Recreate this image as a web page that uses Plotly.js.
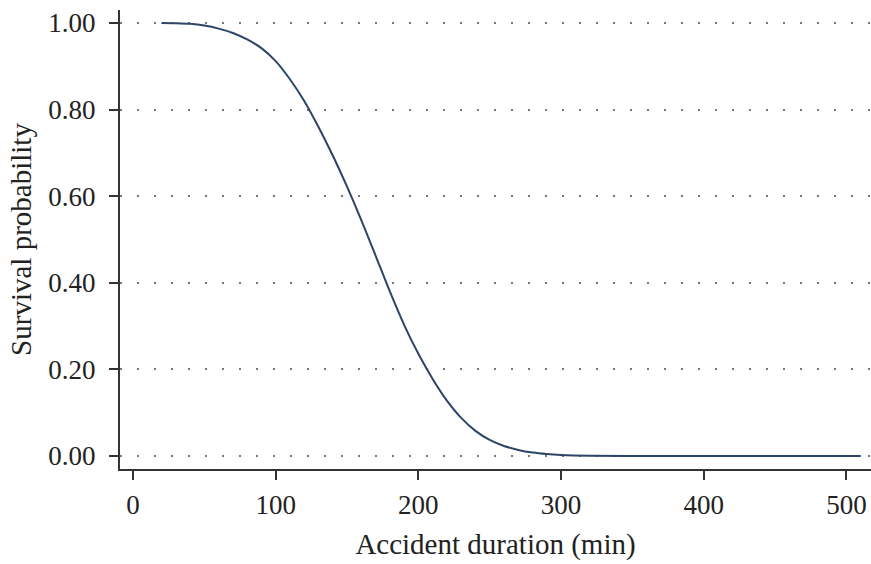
<!DOCTYPE html>
<html>
<head>
<meta charset="utf-8">
<script src="https://cdn.plot.ly/plotly-3.0.1.min.js"></script>
<style>html,body{margin:0;padding:0;background:#fff;}#chart{width:871px;height:564px;}</style>
</head>
<body>
<div id="chart"></div>
<script>
const durationMin = [20, 30, 40, 50, 60, 70, 80, 90, 100, 110, 120, 130, 140, 150, 160, 170, 180, 190, 200, 210, 220, 230, 240, 250, 260, 270, 280, 290, 300, 320, 350, 510];
const survivalProb = [1.000, 0.9995, 0.998, 0.994, 0.987, 0.977, 0.962, 0.942, 0.912, 0.870, 0.820, 0.760, 0.694, 0.622, 0.545, 0.463, 0.380, 0.303, 0.236, 0.178, 0.128, 0.088, 0.058, 0.037, 0.023, 0.014, 0.008, 0.0045, 0.0025, 0.0008, 0.0001, 0.0];
const xTickVals = [0, 100, 200, 300, 400, 500];
const yTickVals = [0, 0.2, 0.4, 0.6, 0.8, 1.0];
const yTickText = ["0.00", "0.20", "0.40", "0.60", "0.80", "1.00"];

const font = "Liberation Serif, Times New Roman, serif";
Plotly.newPlot("chart", [{
  x: durationMin, y: survivalProb, type: "scatter", mode: "lines",
  line: {color: "#2b4566", width: 2, shape: "spline", smoothing: 0.8},
  hoverinfo: "skip"
}], {
  width: 871, height: 564,
  margin: {l: 120, r: 0, t: 10, b: 95},
  paper_bgcolor: "#fff", plot_bgcolor: "#fff",
  showlegend: false,
  font: {family: font, color: "#222", size: 27},
  xaxis: {
    range: [-9.1, 517.2], tickvals: xTickVals, ticks: "outside", ticklen: 9, tickwidth: 2, tickcolor: "#333",
    showline: true, linecolor: "#333", linewidth: 2, showgrid: false, zeroline: false,
    tickfont: {family: font, size: 27, color: "#222"}, ticklabelstandoff: 2,
    title: {text: "Accident duration (min)", font: {family: font, size: 29, color: "#222"}, standoff: 14}
  },
  yaxis: {
    range: [-0.03, 1.03], tickvals: yTickVals, ticktext: yTickText, ticks: "outside", ticklen: 9, tickwidth: 2, tickcolor: "#333",
    showline: true, linecolor: "#333", linewidth: 2, zeroline: false,
    showgrid: true, gridcolor: "#777", gridwidth: 2, griddash: "2px,15px",
    tickfont: {family: font, size: 27, color: "#222"}, ticklabelstandoff: 8,
    title: {text: "Survival probability", font: {family: font, size: 29, color: "#222"}, standoff: 8}
  }
}, {staticPlot: true});
</script>
</body>
</html>
